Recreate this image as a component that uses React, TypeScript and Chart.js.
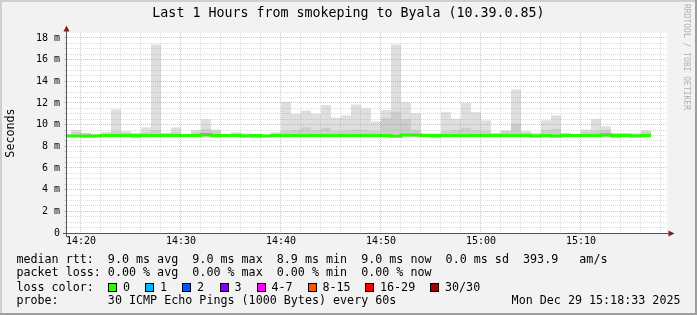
import React, { useEffect, useRef } from "react";
import { Chart, registerables } from "chart.js";

Chart.register(...registerables);

// ---- data ----
const times = [
  "14:18", "14:19", "14:20", "14:21", "14:22", "14:23", "14:24", "14:25", "14:26", "14:27",
  "14:28", "14:29", "14:30", "14:31", "14:32", "14:33", "14:34", "14:35", "14:36", "14:37",
  "14:38", "14:39", "14:40", "14:41", "14:42", "14:43", "14:44", "14:45", "14:46", "14:47",
  "14:48", "14:49", "14:50", "14:51", "14:52", "14:53", "14:54", "14:55", "14:56", "14:57",
  "14:58", "14:59", "15:00", "15:01", "15:02", "15:03", "15:04", "15:05", "15:06", "15:07",
  "15:08", "15:09", "15:10", "15:11", "15:12", "15:13", "15:14", "15:15", "15:16",
];
const maxRtt = [
  9.1, 9.5, 9.25, 9.1, 9.35, 11.4, 9.4, 9.25, 9.75, 17.4,
  9.25, 9.75, 9.1, 9.5, 10.5, 9.55, 9.1, 9.3, 9.2, 9.1,
  9.05, 9.3, 12.1, 11.0, 11.3, 11.0, 11.8, 10.65, 10.85, 11.85,
  11.5, 10.3, 11.35, 17.4, 12.05, 11.05, 9.2, 9.2, 11.15, 10.55,
  12.0, 11.15, 10.4, 9.25, 9.45, 13.25, 9.4, 9.25, 10.4, 10.85,
  9.25, 9.1, 9.55, 10.5, 9.85, 9.25, 9.25, 9.2, 9.5,
];
const upperRtt = [
  9.1, 9.3, 9.2, 9.1, 9.2, 9.4, 9.25, 9.15, 9.3, 9.5,
  9.2, 9.3, 9.1, 9.3, 9.6, 9.4, 9.1, 9.2, 9.15, 9.1,
  9.05, 9.2, 9.45, 9.5, 9.75, 9.5, 9.7, 9.4, 9.45, 9.55,
  9.5, 9.4, 10.6, 11.2, 10.5, 9.5, 9.15, 9.15, 9.4, 9.5,
  9.7, 9.5, 9.4, 9.2, 9.4, 10.1, 9.3, 9.15, 9.5, 9.6,
  9.2, 9.1, 9.35, 9.4, 9.5, 9.15, 9.2, 9.15, 9.35,
];
const lowerRtt = [
  8.9, 8.9, 8.9, 8.9, 8.9, 8.9, 8.9, 8.8, 8.9, 8.9,
  8.9, 8.9, 8.9, 8.9, 8.9, 8.88, 8.9, 8.9, 8.9, 8.8,
  8.9, 8.9, 8.9, 8.9, 8.9, 8.9, 8.9, 8.9, 8.9, 8.9,
  8.9, 8.9, 8.9, 8.9, 8.9, 8.9, 8.9, 8.8, 8.9, 8.9,
  8.9, 8.9, 8.9, 8.9, 8.9, 8.9, 8.9, 8.88, 8.9, 8.85,
  8.9, 8.9, 8.9, 8.9, 8.9, 8.8, 8.9, 8.88, 8.9,
];
const minRtt = [
  8.85, 8.85, 8.85, 8.85, 8.85, 8.85, 8.85, 8.72, 8.85, 8.85,
  8.85, 8.85, 8.85, 8.85, 8.85, 8.8, 8.85, 8.85, 8.85, 8.72,
  8.85, 8.85, 8.85, 8.85, 8.85, 8.85, 8.85, 8.85, 8.85, 8.85,
  8.85, 8.85, 8.85, 8.85, 8.85, 8.85, 8.85, 8.72, 8.85, 8.85,
  8.85, 8.85, 8.85, 8.85, 8.85, 8.85, 8.85, 8.8, 8.85, 8.75,
  8.85, 8.85, 8.85, 8.85, 8.85, 8.72, 8.85, 8.8, 8.85,
];
const medianRtt = [
  8.95, 8.95, 8.95, 8.95, 9.0, 9.0, 9.0, 9.0, 9.0, 9.0,
  9.0, 9.0, 9.0, 9.0, 9.1, 9.0, 9.0, 9.0, 8.95, 9.0,
  8.95, 9.0, 9.0, 9.0, 9.0, 9.0, 9.0, 9.0, 9.0, 9.0,
  9.0, 9.0, 9.0, 8.93, 9.05, 9.05, 9.0, 9.0, 9.0, 9.0,
  9.0, 9.0, 9.0, 9.0, 9.0, 9.0, 9.0, 8.95, 9.0, 8.95,
  9.0, 9.0, 9.0, 9.0, 9.08, 9.0, 9.0, 8.95, 9.0,
];
const rangeStart = "14:18:36";
const rangeEnd = "15:18:36";
const yMax = 18.46;
const yLabelStep = 2;
const xMajorLabels = ["14:20", "14:30", "14:40", "14:50", "15:00", "15:10"];

const titleText = "Last 1 Hours from smokeping to Byala (10.39.0.85)";
const statLines = [
  "median rtt:  9.0 ms avg  9.0 ms max  8.9 ms min  9.0 ms now  0.0 ms sd  393.9   am/s",
  "packet loss: 0.00 % avg  0.00 % max  0.00 % min  0.00 % now",
];
const lossLabels = ["0", "1", "2", "3", "4-7", "8-15", "16-29", "30/30"];
const lossColors = ["#26ff00", "#00b8ff", "#0059ff", "#7e00ff", "#ff00ff", "#ff5500", "#ff0000", "#a10000"];
const lossBoxX = [108, 145, 182, 219.5, 256.5, 307.5, 365, 430];
const probeText = "probe:       30 ICMP Echo Pings (1000 Bytes) every 60s";
const dateText = "Mon Dec 29 15:18:33 2025";
const watermark = "RRDTOOL / TOBI OETIKER";

const MONO = "'DejaVu Sans Mono', monospace";

const toMin = (s: string) => {
  const p = s.split(":").map(Number);
  return p[0] * 60 + p[1] + (p[2] || 0) / 60;
};
const fmt = (v: number) => {
  const h = Math.floor(v / 60);
  const m = Math.round(v - h * 60);
  return `${h}:${String(m).padStart(2, "0")}`;
};

const framePlugin = {
  id: "rrdframe",
  beforeDraw(chart: any) {
    const { ctx, chartArea: a, width, height } = chart;
    ctx.save();
    ctx.fillStyle = "#f2f2f2";
    ctx.fillRect(0, 0, width, height);
    ctx.fillStyle = "#ffffff";
    ctx.fillRect(a.left, a.top, a.right - a.left, a.bottom - a.top);
    ctx.fillStyle = "#cfcfcf";
    ctx.fillRect(0, 0, width, 2);
    ctx.fillRect(0, 0, 2, height);
    ctx.fillStyle = "#9e9e9e";
    ctx.fillRect(0, height - 2, width, 2);
    ctx.fillRect(width - 2, 0, 2, height);
    ctx.restore();
  },
  afterDraw(chart: any) {
    const { ctx, chartArea: a } = chart;
    ctx.save();
    ctx.strokeStyle = "#555555";
    ctx.lineWidth = 1;
    ctx.beginPath();
    ctx.moveTo(a.left - 0.5, a.bottom + 4);
    ctx.lineTo(a.left - 0.5, a.top - 2);
    ctx.moveTo(a.left - 4, a.bottom + 0.5);
    ctx.lineTo(a.right + 2, a.bottom + 0.5);
    ctx.stroke();
    ctx.fillStyle = "#801f1f";
    ctx.beginPath();
    ctx.moveTo(a.left - 0.5, a.top - 7.5);
    ctx.lineTo(a.left - 3.5, a.top - 1.5);
    ctx.lineTo(a.left + 2.5, a.top - 1.5);
    ctx.closePath();
    ctx.fill();
    ctx.beginPath();
    ctx.moveTo(a.right + 7.5, a.bottom + 0.5);
    ctx.lineTo(a.right + 1.5, a.bottom - 2.5);
    ctx.lineTo(a.right + 1.5, a.bottom + 3.5);
    ctx.closePath();
    ctx.fill();
    ctx.restore();
  },
};

const MAJOR = "rgba(230,80,80,0.42)";
const MINOR = "rgba(143,143,143,0.3)";

export default function App() {
  const ref = useRef<HTMLCanvasElement | null>(null);

  useEffect(() => {
    if (!ref.current) return;
    const mins = times.map(toMin);
    const outer = mins.map((m, i) => ({ x: m + 0.5, y: [minRtt[i], maxRtt[i]] }));
    const inner = mins.map((m, i) => ({ x: m + 0.5, y: [lowerRtt[i], upperRtt[i]] }));
    const med = mins.map((m, i) => ({ x: m, y: medianRtt[i] }));
    med.push({ x: mins[mins.length - 1] + 1, y: medianRtt[medianRtt.length - 1] });
    const xMin = toMin(rangeStart);
    const xMax = toMin(rangeEnd);
    const majorSet = new Set(xMajorLabels.map(toMin));

    const chart = new Chart(ref.current, {
      type: "bar",
      data: {
        datasets: [
          {
            type: "line",
            data: med as any,
            borderColor: "#26ff00",
            borderWidth: 3,
            pointRadius: 0,
            stepped: true,
            order: 0,
          } as any,
          {
            type: "bar",
            data: inner as any,
            backgroundColor: "#cdcdcd",
            borderWidth: 0,
            grouped: false,
            barPercentage: 1,
            categoryPercentage: 1,
            inflateAmount: 0,
            order: 1,
          } as any,
          {
            type: "bar",
            data: outer as any,
            backgroundColor: "#dfdfdf",
            borderWidth: 0,
            grouped: false,
            barPercentage: 1,
            categoryPercentage: 1,
            inflateAmount: 0,
            order: 2,
          } as any,
        ],
      },
      options: {
        animation: false,
        responsive: false,
        devicePixelRatio: 1,
        events: [],
        layout: { padding: { top: 33, left: 0, right: 30, bottom: 0 } },
        plugins: { legend: { display: false }, tooltip: { enabled: false }, title: { display: false } },
        scales: {
          x: {
            type: "linear",
            position: "bottom",
            min: xMin,
            max: xMax,
            offset: false,
            afterFit: (s: any) => {
              s.height = 82;
            },
            afterBuildTicks: (s: any) => {
              const t: any[] = [];
              for (let v = Math.ceil(xMin / 2) * 2; v <= xMax; v += 2) t.push({ value: v });
              s.ticks = t;
            },
            grid: {
              offset: false,
              z: 1,
              drawTicks: false,
              lineWidth: 1,
              color: (c: any) => (majorSet.has(c.tick?.value) ? MAJOR : MINOR),
            },
            border: { display: false, dash: [1, 1] },
            ticks: {
              autoSkip: false,
              maxRotation: 0,
              minRotation: 0,
              padding: 2,
              color: "#000",
              font: { family: MONO, size: 10 },
              callback: (v: any) => (majorSet.has(Number(v)) ? fmt(Number(v)) : ""),
            },
          },
          y: {
            type: "linear",
            min: 0,
            max: yMax,
            afterFit: (s: any) => {
              s.width = 67;
            },
            afterBuildTicks: (s: any) => {
              const t: any[] = [];
              for (let v = 0; v <= yMax; v += 0.5) t.push({ value: v });
              s.ticks = t;
            },
            grid: {
              z: 1,
              drawTicks: true,
              tickLength: 3,
              lineWidth: 1,
              color: (c: any) => (c.tick && c.tick.value % yLabelStep === 0 ? MAJOR : MINOR),
              tickColor: (c: any) => (c.tick && c.tick.value % yLabelStep === 0 ? MAJOR : MINOR),
            },
            border: { display: false, dash: [1, 1] },
            ticks: {
              autoSkip: false,
              padding: 4,
              color: "#000",
              font: { family: MONO, size: 10 },
              callback: (v: any) => {
                const n = Number(v);
                if (n % yLabelStep !== 0) return "";
                return n === 0 ? "0" : `${n} m`;
              },
            },
            title: {
              display: true,
              text: "Seconds",
              color: "#000",
              font: { family: MONO, size: 11.7 },
              padding: { top: 4, bottom: 0 },
            },
          },
        },
      },
      plugins: [framePlugin],
    } as any);
    return () => chart.destroy();
  }, []);

  const textBase: React.CSSProperties = {
    position: "absolute",
    fontFamily: MONO,
    fontSize: "11.7px",
    lineHeight: "14px",
    color: "#000",
    whiteSpace: "pre",
    margin: 0,
  };
  const lineTops = [252.1, 265.4, 279.7, 293.4];

  return (
    <div style={{ position: "fixed", left: 0, top: 0, width: 697, height: 315, overflow: "hidden" }}>
      <canvas ref={ref} width={697} height={315} style={{ position: "absolute", left: 0, top: 0 }} />
      <div
        style={{
          position: "absolute",
          left: 0,
          top: 4.7,
          width: 697,
          textAlign: "center",
          fontFamily: MONO,
          fontSize: "13.3px",
          lineHeight: "16px",
          color: "#000",
          whiteSpace: "pre",
        }}
      >
        {titleText}
      </div>
      <div
        style={{
          position: "absolute",
          left: 682,
          top: 4,
          writingMode: "vertical-rl",
          fontFamily: MONO,
          fontSize: "8px",
          lineHeight: "9px",
          color: "#b0b0b0",
          whiteSpace: "pre",
        }}
      >
        {watermark}
      </div>
      <div style={{ ...textBase, left: 16.4, top: lineTops[0] }}>{statLines[0]}</div>
      <div style={{ ...textBase, left: 16.4, top: lineTops[1] }}>{statLines[1]}</div>
      <div style={{ ...textBase, left: 16.4, top: lineTops[2] }}>loss color:</div>
      {lossLabels.map((l, i) => (
        <React.Fragment key={l}>
          <div
            style={{
              position: "absolute",
              left: lossBoxX[i],
              top: 283,
              width: 7,
              height: 7,
              border: "1px solid #000",
              background: lossColors[i],
            }}
          />
          <div style={{ ...textBase, left: lossBoxX[i] + 15, top: lineTops[2] }}>{l}</div>
        </React.Fragment>
      ))}
      <div style={{ ...textBase, left: 16.4, top: lineTops[3] }}>{probeText}</div>
      <div style={{ ...textBase, right: 697 - 680.5, top: lineTops[3] }}>{dateText}</div>
    </div>
  );
}
